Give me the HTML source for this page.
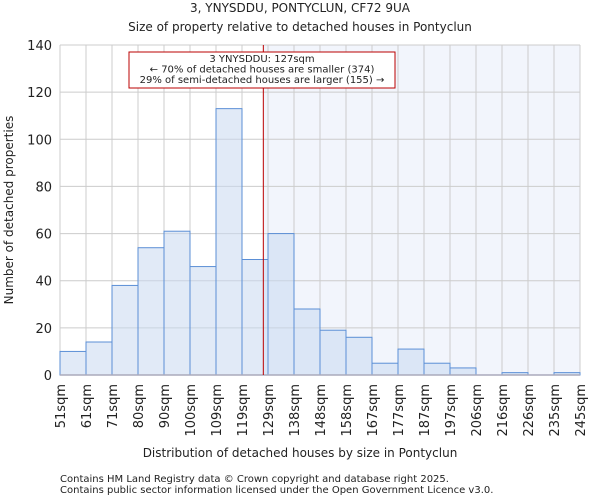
<!DOCTYPE html>
<html><head><meta charset="utf-8"><style>
body{margin:0;background:#fff;font-family:"DejaVu Sans","Liberation Sans",sans-serif}
svg text{font-family:"DejaVu Sans","Liberation Sans",sans-serif;fill:#222}
</style></head><body>
<svg id="c" width="600" height="500">
<text x="300" y="12" text-anchor="middle" font-size="12">3, YNYSDDU, PONTYCLUN, CF72 9UA</text>
<text x="300" y="31" text-anchor="middle" font-size="12">Size of property relative to detached houses in Pontyclun</text>
<g id="grid"></g><g id="bars"></g><g id="axes"></g>
<text x="300" y="457" text-anchor="middle" font-size="12">Distribution of detached houses by size in Pontyclun</text>
<text transform="translate(13,210) rotate(-90)" text-anchor="middle" font-size="12">Number of detached properties</text>
<text x="60" y="482" font-size="10" fill="#444">Contains HM Land Registry data © Crown copyright and database right 2025.</text>
<text x="60" y="493" font-size="10" fill="#444">Contains public sector information licensed under the Open Government Licence v3.0.</text>
</svg>
<script>
const labels=["51sqm","61sqm","71sqm","80sqm","90sqm","100sqm","109sqm","119sqm","129sqm","138sqm","148sqm","158sqm","167sqm","177sqm","187sqm","197sqm","206sqm","216sqm","226sqm","235sqm","245sqm"];
const counts=[10,14,38,54,61,46,113,49,60,28,19,16,5,11,5,3,0,1,0,1];
const yTicks=[0,20,40,60,80,100,120,140];
const propertyPos=7.82;
const L=60,R=580,T=45,B=375,yMax=140;
const NS="http://www.w3.org/2000/svg";
const bw=(R-L)/counts.length;
const x=i=>L+i*bw, y=v=>B-(v/yMax)*(B-T);
function mk(t,a,p){const e=document.createElementNS(NS,t);for(const k in a)e.setAttribute(k,a[k]);p.appendChild(e);return e;}
const g=document.getElementById('grid'),b=document.getElementById('bars'),ax=document.getElementById('axes');
const px=x(propertyPos);
const sh=mk('rect',{x:px,y:T,width:R-px,height:B-T,fill:'#f2f5fc'},g);


labels.forEach((l,i)=>{mk('line',{x1:x(i),x2:x(i),y1:T,y2:B,stroke:'#ccc','stroke-width':1},g);});
yTicks.forEach(v=>{mk('line',{x1:L,x2:R,y1:y(v),y2:y(v),stroke:'#ccc','stroke-width':1},g);
const t=mk('text',{x:L-8,y:y(v)+5,'text-anchor':'end','font-size':13},ax);t.textContent=v;

});
counts.forEach((c,i)=>{if(c<=0)return;const r=mk('rect',{x:x(i),y:y(c),width:bw,height:B-y(c),fill:'rgba(200,216,240,0.55)',stroke:'#5b8fd6','stroke-width':1},b);

});
mk('line',{x1:L,x2:R,y1:B,y2:B,stroke:'#aab','stroke-width':1.5},ax);
labels.forEach((l,i)=>{const t=mk('text',{transform:`translate(${x(i)+5},${B+9}) rotate(-90)`,'text-anchor':'end','font-size':13},ax);t.textContent=l;

});
const pl=mk('line',{x1:px,x2:px,y1:T,y2:B,stroke:'#b00','stroke-width':1},ax);


const ab=mk('rect',{x:129,y:52,width:266,height:36,fill:'#fff',stroke:'#b00','stroke-width':1},ax);


["3 YNYSDDU: 127sqm","← 70% of detached houses are smaller (374)","29% of semi-detached houses are larger (155) →"].forEach((s,i)=>{
const t=mk('text',{x:262,y:62+i*10.5,'text-anchor':'middle','font-size':10},ax);t.textContent=s;

});
</script>
</body></html>
